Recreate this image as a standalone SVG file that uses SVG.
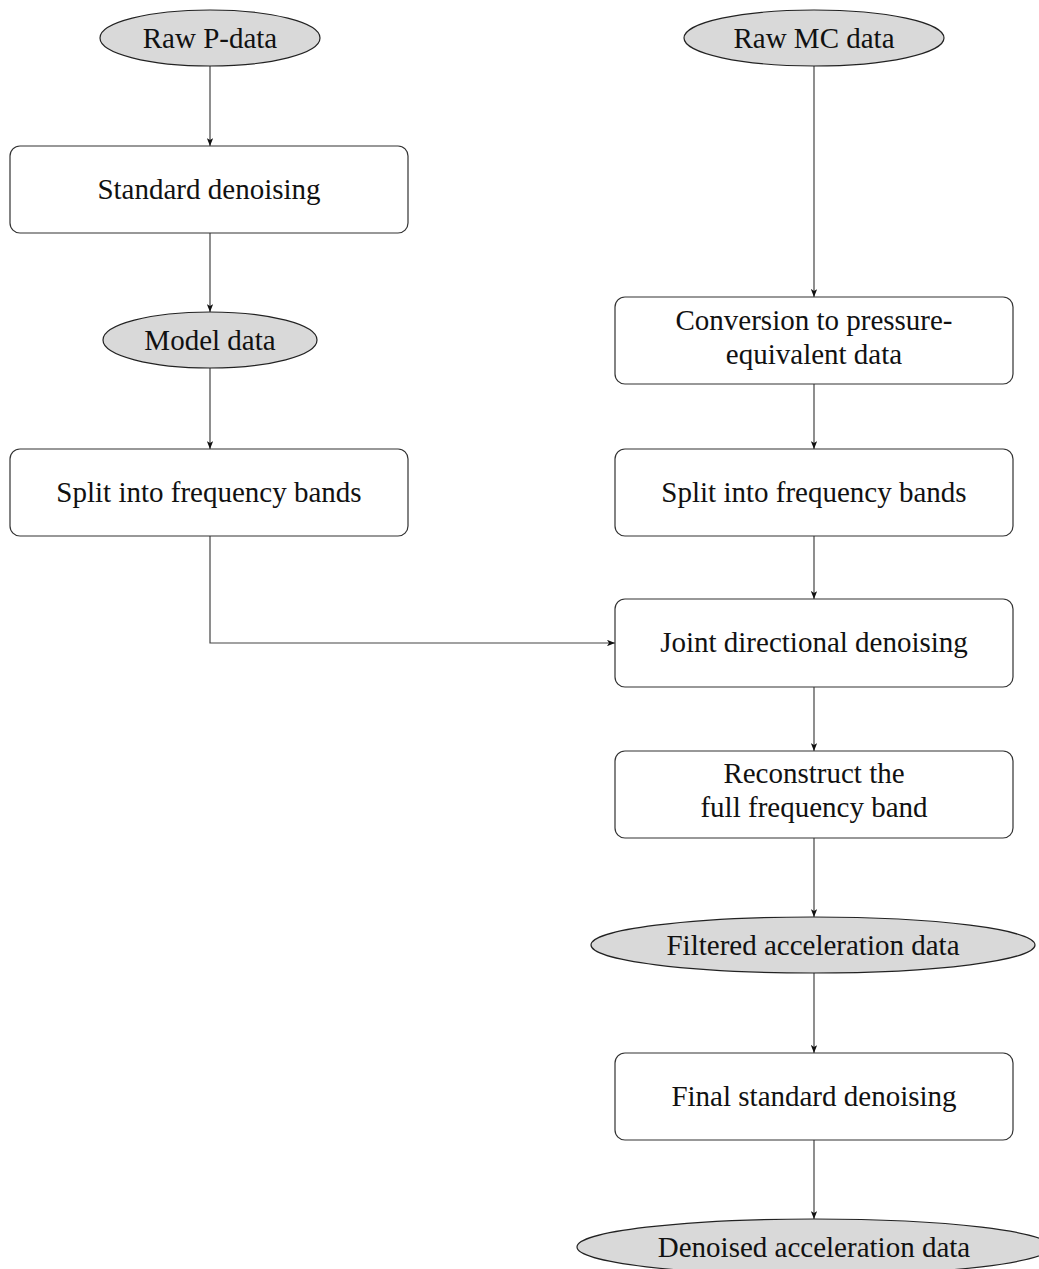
<svg xmlns="http://www.w3.org/2000/svg" width="1039" height="1269" viewBox="0 0 1039 1269">
<defs>
<style>
.box{fill:#ffffff;stroke:#333333;stroke-width:1.2}
.ell{fill:#d9d9d9;stroke:#222222;stroke-width:1.2}
.t{font-family:"Liberation Serif","Times New Roman",serif;font-size:29px;fill:#111111;text-anchor:middle}
.c{fill:none;stroke:#444444;stroke-width:1.2}
</style>
<marker id="arr" viewBox="0 0 10 8" refX="10" refY="4" markerWidth="8" markerHeight="6.4" markerUnits="userSpaceOnUse" orient="auto">
<path d="M0,0 L10,4 L0,8 L2.5,4 z" fill="#111111"/>
</marker>
</defs>
<rect width="1039" height="1269" fill="#ffffff"/>
<g id="connectors">
<path class="c" d="M210,66 V146" marker-end="url(#arr)"/>
<path class="c" d="M210,233 V312" marker-end="url(#arr)"/>
<path class="c" d="M210,368 V449" marker-end="url(#arr)"/>
<path class="c" d="M210,536 V643 H615" marker-end="url(#arr)"/>
<path class="c" d="M814,66 V297" marker-end="url(#arr)"/>
<path class="c" d="M814,384 V449" marker-end="url(#arr)"/>
<path class="c" d="M814,536 V599" marker-end="url(#arr)"/>
<path class="c" d="M814,687 V751" marker-end="url(#arr)"/>
<path class="c" d="M814,838 V917" marker-end="url(#arr)"/>
<path class="c" d="M814,973 V1053" marker-end="url(#arr)"/>
<path class="c" d="M814,1140 V1219" marker-end="url(#arr)"/>
</g>
<g id="raw-p"><ellipse class="ell" cx="210" cy="38" rx="110" ry="28"/><text class="t" x="210" y="48">Raw P-data</text></g>
<g id="std-denoise"><rect class="box" x="10" y="146" width="398" height="87" rx="10"/><text class="t" x="209" y="199">Standard denoising</text></g>
<g id="model-data"><ellipse class="ell" cx="210" cy="340" rx="107" ry="28"/><text class="t" x="210" y="350">Model data</text></g>
<g id="split-left"><rect class="box" x="10" y="449" width="398" height="87" rx="10"/><text class="t" x="209" y="502">Split into frequency bands</text></g>
<g id="raw-mc"><ellipse class="ell" cx="814" cy="38" rx="130" ry="28"/><text class="t" x="814" y="48">Raw MC data</text></g>
<g id="conversion"><rect class="box" x="615" y="297" width="398" height="87" rx="10"/><text class="t" x="814" y="330">Conversion to pressure-</text><text class="t" x="814" y="364">equivalent data</text></g>
<g id="split-right"><rect class="box" x="615" y="449" width="398" height="87" rx="10"/><text class="t" x="814" y="502">Split into frequency bands</text></g>
<g id="joint"><rect class="box" x="615" y="599" width="398" height="88" rx="10"/><text class="t" x="814" y="652">Joint directional denoising</text></g>
<g id="reconstruct"><rect class="box" x="615" y="751" width="398" height="87" rx="10"/><text class="t" x="814" y="783">Reconstruct the</text><text class="t" x="814" y="817">full frequency band</text></g>
<g id="filtered"><ellipse class="ell" cx="813" cy="945" rx="222" ry="28"/><text class="t" x="813" y="955">Filtered acceleration data</text></g>
<g id="final-denoise"><rect class="box" x="615" y="1053" width="398" height="87" rx="10"/><text class="t" x="814" y="1106">Final standard denoising</text></g>
<g id="denoised"><ellipse class="ell" cx="814" cy="1247" rx="237" ry="28"/><text class="t" x="814" y="1257">Denoised acceleration data</text></g>
</svg>
